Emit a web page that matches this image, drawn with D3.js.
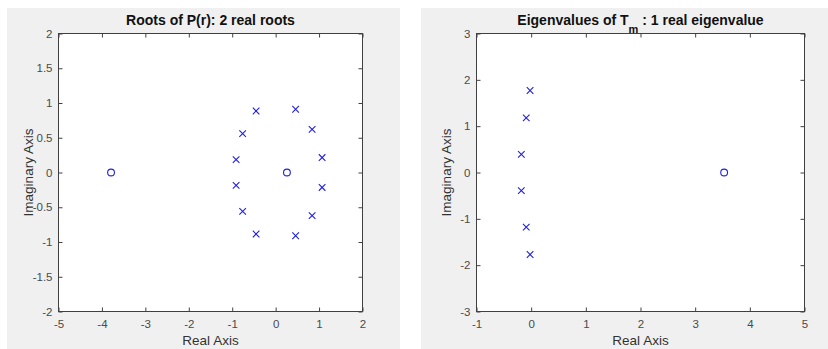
<!DOCTYPE html>
<html>
<head>
<meta charset="utf-8">
<script src="https://cdn.jsdelivr.net/npm/d3@7"></script>
<style>
  body { margin: 0; background: #fff; }
  svg { display: block; font-family: "Liberation Sans", Arial, sans-serif; }
  .tick text { fill: #4a4a4a; font-size: 11.5px; }
  .lab { fill: #333; font-size: 13.5px; }
  .ttl { fill: #111; font-size: 14px; font-weight: bold; }
</style>
</head>
<body>
<div id="chart"></div>
<script>
// left plot: roots of P(r)
var rootsPoleRe = [-0.45, 0.46, 0.84, 1.07, 1.07, 0.84, 0.46, -0.45, -0.76, -0.91, -0.91, -0.76];
var rootsPoleIm = [0.885, 0.91, 0.62, 0.215, -0.215, -0.62, -0.91, -0.885, -0.56, -0.185, 0.185, 0.56];
var rootsZeroRe = [-3.79, 0.26];
var rootsZeroIm = [0, 0];
var leftXTicks = [-5, -4, -3, -2, -1, 0, 1, 2];
var leftYTicks = [-2, -1.5, -1, -0.5, 0, 0.5, 1, 1.5, 2];

// right plot: eigenvalues of T_m
var eigPoleRe = [-0.02, -0.09, -0.18, -0.18, -0.09, -0.02];
var eigPoleIm = [1.77, 1.18, 0.39, -0.39, -1.18, -1.77];
var eigZeroRe = [3.53];
var eigZeroIm = [0];
var rightXTicks = [-1, 0, 1, 2, 3, 4, 5];
var rightYTicks = [-3, -2, -1, 0, 1, 2, 3];

var svg = d3.select("#chart").append("svg").attr("width", 828).attr("height", 349);

function drawPanel(opt) {
    // gray figure background
    svg.append("rect")
        .attr("x", opt.bg[0]).attr("y", 8)
        .attr("width", opt.bg[1] - opt.bg[0]).attr("height", 341)
        .attr("fill", "#f0f0f0");

    var x = d3.scaleLinear().domain(opt.xDomain).range([opt.left, opt.right]);
    var y = d3.scaleLinear().domain(opt.yDomain).range([311.5, 33.5]);

    svg.append("rect")
        .attr("x", opt.left).attr("y", 33.5)
        .attr("width", opt.right - opt.left).attr("height", 311.5 - 33.5)
        .attr("fill", "#fff");

    var fmt = function(d) { return d3.format("")(d).replace("−", "-"); };

    var g = svg.append("g");
    g.append("g").attr("transform", "translate(0,311.5)")
        .call(d3.axisBottom(x).tickValues(opt.xTicks).tickSizeInner(-4).tickSizeOuter(0).tickPadding(8).tickFormat(fmt));
    g.append("g").attr("transform", "translate(0,33.5)")
        .call(d3.axisTop(x).tickValues(opt.xTicks).tickSizeInner(-4).tickSizeOuter(0).tickFormat(""));
    g.append("g").attr("transform", "translate(" + opt.left + ",0)")
        .call(d3.axisLeft(y).tickValues(opt.yTicks).tickSizeInner(-4).tickSizeOuter(0).tickPadding(6).tickFormat(fmt));
    g.append("g").attr("transform", "translate(" + opt.right + ",0)")
        .call(d3.axisRight(y).tickValues(opt.yTicks).tickSizeInner(-4).tickSizeOuter(0).tickFormat(""));
    g.selectAll(".domain").remove();
    g.selectAll(".tick line").attr("stroke", "#404040");
    g.selectAll(".tick text").attr("font-family", null).attr("font-size", null);

    svg.append("rect")
        .attr("x", opt.left).attr("y", 33.5)
        .attr("width", opt.right - opt.left).attr("height", 311.5 - 33.5)
        .attr("fill", "none").attr("stroke", "#404040").attr("stroke-width", 1);

    // poles (x markers)
    var poles = opt.poleRe.map(function(d, i) { return [d, opt.poleIm[i]]; });
    svg.selectAll(null).data(poles).enter().append("path")
        .attr("d", function(d) {
            var cx = x(d[0]), cy = y(d[1]), s = 3.3;
            return "M" + (cx - s) + "," + (cy - s) + "L" + (cx + s) + "," + (cy + s) +
                   "M" + (cx - s) + "," + (cy + s) + "L" + (cx + s) + "," + (cy - s);
        })
        .attr("stroke", "#2020e0").attr("stroke-width", 1.1).attr("fill", "none");

    // zeros (o markers)
    var zeros = opt.zeroRe.map(function(d, i) { return [d, opt.zeroIm[i]]; });
    svg.selectAll(null).data(zeros).enter().append("circle")
        .attr("cx", function(d) { return x(d[0]); })
        .attr("cy", function(d) { return y(d[1]); })
        .attr("r", 3.4)
        .attr("stroke", "#2020e0").attr("stroke-width", 1.1).attr("fill", "none");

    var mid = (opt.left + opt.right) / 2;
    svg.append("text").attr("class", "lab")
        .attr("x", mid).attr("y", 345).attr("text-anchor", "middle").text("Real Axis");
    svg.append("text").attr("class", "lab")
        .attr("transform", "translate(" + (opt.left - 26) + "," + ((33.5 + 311.5) / 2) + ") rotate(-90)")
        .attr("text-anchor", "middle").text("Imaginary Axis");

    var t = svg.append("text").attr("class", "ttl")
        .attr("x", mid).attr("y", 25).attr("text-anchor", "middle");
    opt.title(t);
}

drawPanel({
    bg: [7, 400], left: 58.5, right: 362.5,
    xDomain: [-5, 2], yDomain: [-2, 2],
    xTicks: leftXTicks, yTicks: leftYTicks,
    poleRe: rootsPoleRe, poleIm: rootsPoleIm,
    zeroRe: rootsZeroRe, zeroIm: rootsZeroIm,
    title: function(t) { t.text("Roots of P(r): 2 real roots"); }
});

drawPanel({
    bg: [421, 828], left: 476.5, right: 804.5,
    xDomain: [-1, 5], yDomain: [-3, 3],
    xTicks: rightXTicks, yTicks: rightYTicks,
    poleRe: eigPoleRe, poleIm: eigPoleIm,
    zeroRe: eigZeroRe, zeroIm: eigZeroIm,
    title: function(t) {
        t.append("tspan").text("Eigenvalues of T");
        t.append("tspan").attr("dy", 8).attr("font-size", "11px").text("m");
        t.append("tspan").attr("dy", -8).text(" : 1 real eigenvalue");
    }
});
</script>
</body>
</html>
